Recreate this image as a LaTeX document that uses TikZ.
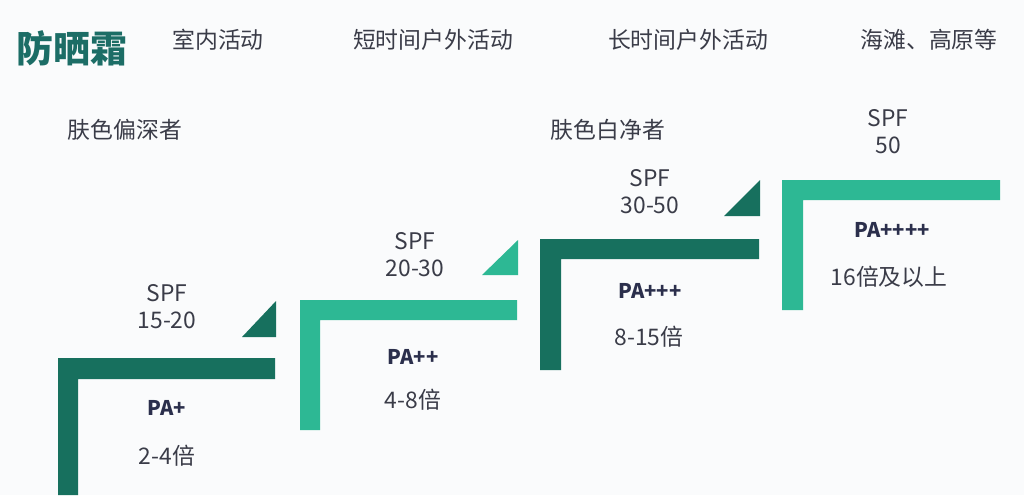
\documentclass[tikz,border=0pt]{standalone}
\usepackage{xcolor}
\usepackage{tikz}
\usepackage{fontspec}
\setmainfont{Noto Sans CJK SC}
\newfontfamily\cjk{Noto Sans CJK SC}

\definecolor{darkgreen}{HTML}{17705E}
\definecolor{lightgreen}{HTML}{2DB894}
\definecolor{titlegreen}{HTML}{1C6D66}
\definecolor{txtgray}{HTML}{3A3C48}
\definecolor{panavy}{HTML}{2B2F4C}
\definecolor{bggray}{HTML}{FAFBFC}

\tikzset{
  lbl/.style={text=txtgray, font=\cjk\fontsize{13}{14}\selectfont, inner sep=0pt},
  spf/.style={text=txtgray, font=\cjk\fontsize{13}{15.5}\selectfont, align=center, inner sep=0pt},
  pa/.style={text=panavy, font=\cjk\bfseries\fontsize{11.5}{13}\selectfont, inner sep=0pt},
}

\begin{document}
\begin{tikzpicture}[x=0.02cm, y=-0.02cm]
\fill[bggray] (0,0) rectangle (1024,495);
\useasboundingbox (0,0) rectangle (1024,495);

% steps
\fill[darkgreen] (58,495) -- (58,358) -- (275,358) -- (275,379) -- (78,379) -- (78,495) -- cycle;
\fill[darkgreen] (242,337) -- (276,337) -- (276,301) -- cycle;

\fill[lightgreen] (300,430) -- (300,300) -- (517,300) -- (517,320) -- (320,320) -- (320,430) -- cycle;
\fill[lightgreen] (482,275) -- (518,275) -- (518,240) -- cycle;

\fill[darkgreen] (540,370) -- (540,239) -- (759,239) -- (759,259) -- (561,259) -- (561,370) -- cycle;
\fill[darkgreen] (724,216) -- (760,216) -- (760,180) -- cycle;

\fill[lightgreen] (782,310) -- (782,180) -- (1000,180) -- (1000,200) -- (803,200) -- (803,310) -- cycle;

% header
\node[text=titlegreen, font=\cjk\bfseries\fontsize{21}{23}\selectfont, inner sep=0pt] (title) at (72,48) {防晒霜};
\node[lbl] (indoor) at (218,40) {室内活动};
\node[lbl] (short) at (433,40) {短时间户外活动};
\node[lbl] (long) at (688,40) {长时间户外活动};
\node[lbl] (beach) at (929,40) {海滩、高原等};

\node[lbl] (dark) at (125,130) {肤色偏深者};
\node[lbl] (fair) at (608,130) {肤色白净者};

% SPF values
\node[spf] (spfa) at (167,307) {SPF\\15-20};
\node[spf] (spfb) at (415,255) {SPF\\20-30};
\node[spf] (spfc) at (650,192) {SPF\\30-50};
\node[spf] (spfd) at (888,132) {SPF\\50};

% PA values
\node[pa] (paa) at (167,408) {PA+};
\node[lbl] (ma) at (167,456) {2-4倍};
\node[pa] (pab) at (413,357) {PA++};
\node[lbl] (mb) at (413,400) {4-8倍};
\node[pa] (pac) at (650,291) {PA+++};
\node[lbl] (mc) at (649,337) {8-15倍};
\node[pa] (pad) at (892,230) {PA++++};
\node[lbl] (md) at (889,277) {16倍及以上};
\end{tikzpicture}
\end{document}
